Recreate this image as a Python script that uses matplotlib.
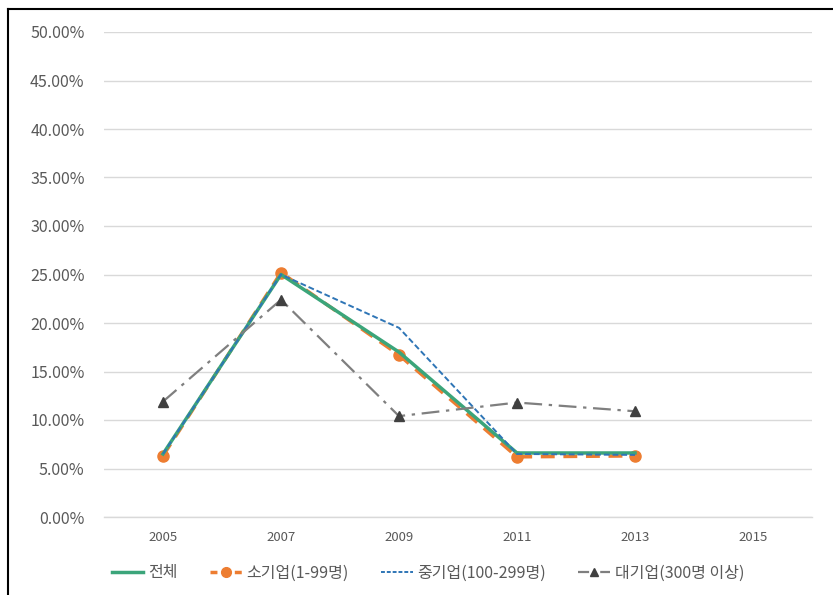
import matplotlib
matplotlib.use("Agg")
import matplotlib.pyplot as plt
from matplotlib.ticker import FuncFormatter
from matplotlib.lines import Line2D

plt.rcParams['font.family'] = ['Noto Sans CJK KR', 'DejaVu Sans']

# Data (fractions)
years = ["2005", "2007", "2009", "2011", "2013", "2015"]
total = [0.065, 0.250, 0.170, 0.066, 0.066]
small = [0.063, 0.252, 0.167, 0.062, 0.063]
medium = [0.065, 0.250, 0.195, 0.065, 0.064]
large = [0.119, 0.224, 0.104, 0.118, 0.109]
series_names = ["전체", "소기업(1-99명)", "중기업(100-299명)", "대기업(300명 이상)"]
y_ticks = [i * 0.05 for i in range(11)]

fig = plt.figure(figsize=(8.33, 5.95), dpi=100)
ax = fig.add_axes([104 / 833, 1 - 517 / 595, 708 / 833, 485 / 595])

x = list(range(len(total)))

# series lines
ax.plot(x, small, color="#ED7D31", lw=2.5, ls=(0, (4, 2.5)), marker="o", ms=8, zorder=2)
ax.plot(x, total, color="#3BA57A", lw=2.5, zorder=3)
ax.plot(x, medium, color="#2E75B6", lw=1.4, ls=(0, (3, 1.5)), zorder=4)
ax.plot(x, large, color="#7F7F7F", lw=1.6, ls=(0, (8, 3, 1.5, 3)),
        marker="^", ms=7, mfc="#404040", mec="#404040", zorder=5)

ax.set_xlim(-0.5, len(years) - 0.5)
ax.set_xticks(range(len(years)))
ax.set_xticklabels(years)
ax.set_ylim(0, 0.5)
ax.set_yticks(y_ticks)
ax.yaxis.set_major_formatter(FuncFormatter(lambda v, p: f"{v * 100:.2f}%"))

ax.grid(axis="y", color="#D9D9D9", lw=1)
ax.axhline(0, color="#D9D9D9", lw=1, clip_on=False, zorder=0.5)
ax.set_axisbelow(True)
for s in ax.spines.values():
    s.set_visible(False)
ax.tick_params(axis="both", length=0, colors="#595959")
ax.tick_params(axis="y", labelsize=11.5, pad=14)
ax.tick_params(axis="x", labelsize=9.5, pad=10)

# legend
handles = [
    Line2D([], [], color="#3BA57A", lw=2.5),
    Line2D([], [], color="#ED7D31", lw=2.5, ls=(0, (2, 1.5)), marker="o", ms=7),
    Line2D([], [], color="#2E75B6", lw=1.4, ls=(0, (2, 1))),
    Line2D([], [], color="#7F7F7F", lw=1.6, ls=(0, (5, 2, 1, 2)),
           marker="^", ms=6, mfc="#404040", mec="#404040"),
]
leg = fig.legend(handles, series_names, loc="center", ncol=4, frameon=False,
                 bbox_to_anchor=(428 / 833, 1 - 573 / 595), fontsize=11.5,
                 handlelength=2.0, handletextpad=0.3, columnspacing=2.0)
for t in leg.get_texts():
    t.set_color("#595959")

# black frame at the left and top edges
fig.add_artist(Line2D([8 / 833, 8 / 833], [0, 1 - 9 / 595], color="black", lw=1.5,
                      transform=fig.transFigure))
fig.add_artist(Line2D([8 / 833, 1], [1 - 9 / 595, 1 - 9 / 595], color="black", lw=1.5,
                      transform=fig.transFigure))

fig.savefig("out.png", dpi=100)
